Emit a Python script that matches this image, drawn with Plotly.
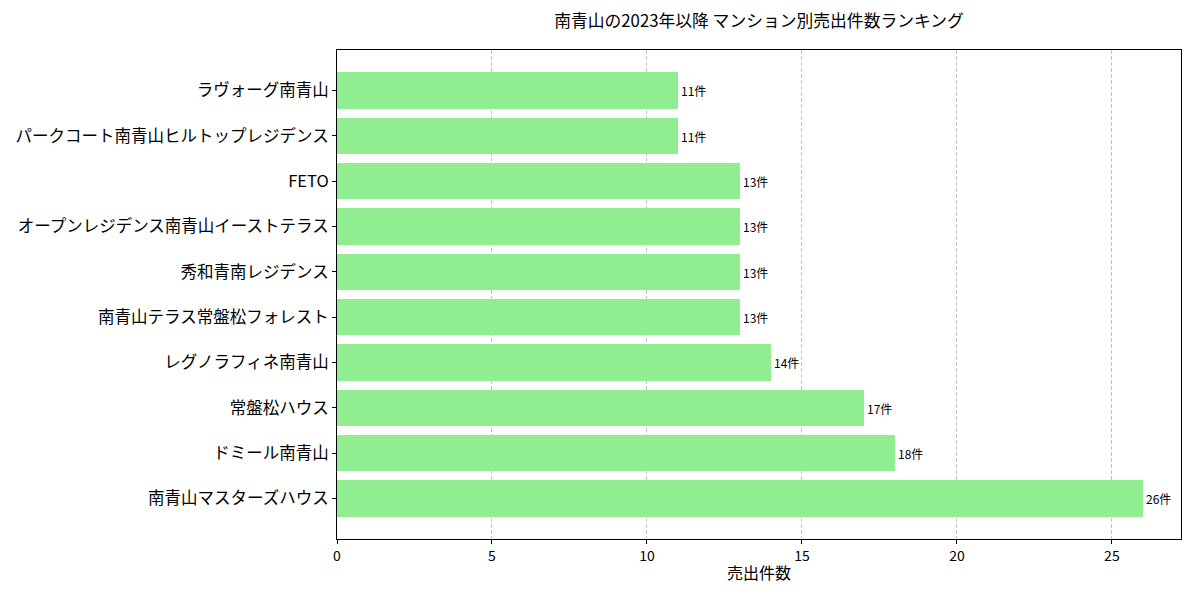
import plotly.graph_objects as go

names = ["南青山マスターズハウス", "ドミール南青山", "常盤松ハウス", "レグノラフィネ南青山",
         "南青山テラス常盤松フォレスト", "秀和青南レジデンス", "オープンレジデンス南青山イーストテラス",
         "FETO", "パークコート南青山ヒルトップレジデンス", "ラヴォーグ南青山"]
counts = [26, 18, 17, 14, 13, 13, 13, 13, 11, 11]
xticks = [0, 5, 10, 15, 20, 25]

ypos = list(range(len(names)))
font = "Noto Sans CJK JP"

fig = go.Figure()
fig.add_trace(go.Bar(
    x=counts, y=ypos, orientation="h", width=0.8,
    marker=dict(color="#90EE90", line=dict(width=0)),
    text=[f"{c}件" for c in counts], textposition="outside",
    textfont=dict(size=12, color="black", family=font),
    cliponaxis=False, hoverinfo="skip",
))
fig.update_layout(
    width=1185, height=585,
    margin=dict(l=329, r=12, t=42, b=54, autoexpand=False),
    plot_bgcolor="white", paper_bgcolor="white",
    font=dict(family=font, color="black"),
    title=dict(text="南青山の2023年以降 マンション別売出件数ランキング", x=0.5, xanchor="center",
               xref="paper", y=1 - 13 / 585, yanchor="middle", font=dict(size=16.8)),
    showlegend=False, bargap=0,
)
fig.update_xaxes(range=[0, 27.23], tickvals=xticks, ticktext=[str(t) for t in xticks],
                 showgrid=True, gridcolor="#c4c4c4", griddash="4px,2px", gridwidth=1,
                 showline=True, linecolor="black", linewidth=1, mirror=True,
                 ticks="outside", ticklen=4, tickcolor="black", tickfont=dict(size=14),
                 title=dict(text="売出件数", font=dict(size=16), standoff=4), zeroline=False,
                 automargin=False)
fig.update_yaxes(range=[-0.89, 9.89], tickvals=ypos, ticktext=names,
                 showgrid=False, showline=True, linecolor="black", linewidth=1, mirror=True,
                 ticks="outside", ticklen=4, tickcolor="black", tickfont=dict(size=16.5),
                 zeroline=False, automargin=False)
fig.write_html("out.html")
